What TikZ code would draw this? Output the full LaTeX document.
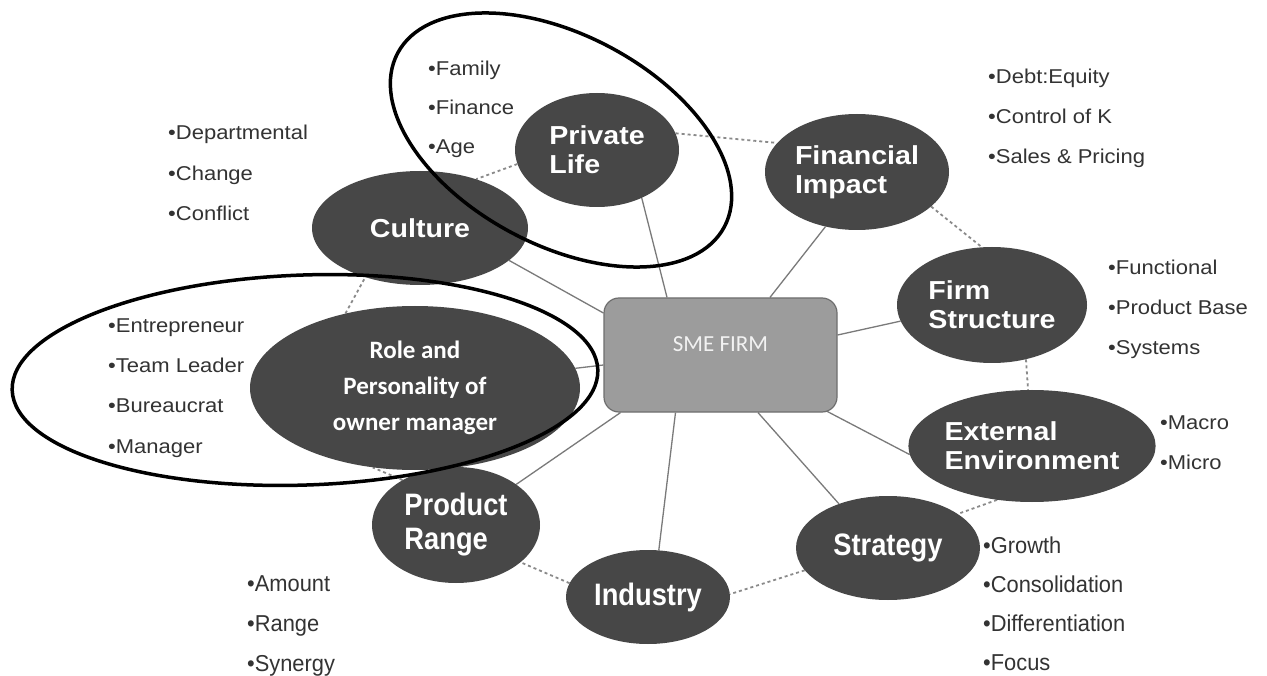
\documentclass[tikz,border=0pt]{standalone}
\usepackage{fontspec}
\setmainfont{Liberation Sans}
\newfontfamily\bulfont[FakeStretch=1.1]{Liberation Sans}
\newfontfamily\narfont[FakeStretch=0.95]{Liberation Sans}
\newfontfamily\labfont[FakeStretch=1.1]{Liberation Sans}
\newfontfamily\labnar[FakeStretch=0.88]{Liberation Sans}
\newfontfamily\calfont{Carlito}
\usetikzlibrary{shapes.geometric,backgrounds}
\definecolor{blobgray}{HTML}{474747}
\definecolor{boxgray}{HTML}{9C9C9C}
\definecolor{boxedge}{HTML}{6E6E6E}
\definecolor{linkgray}{HTML}{7A7A7A}
\definecolor{ringgray}{HTML}{8A8A8A}
\definecolor{bultext}{HTML}{333333}
\tikzset{
  blob/.style={ellipse, fill=blobgray, draw=none, text=white, inner sep=0pt, align=left,
    font=\labfont\bfseries\fontsize{26}{29}\selectfont},
  blobn/.style={blob, font=\labnar\bfseries\fontsize{31}{34}\selectfont},
  bul/.style={anchor=base west, text=bultext, inner sep=0pt, font=\bulfont\fontsize{20}{24}\selectfont},
  buln/.style={bul, font=\narfont\fontsize{23}{24}\selectfont},
  link/.style={draw=linkgray, line width=1.3pt},
  ring/.style={draw=ringgray, line width=1.8pt, dash pattern=on 3pt off 3pt},
  loop/.style={ellipse, draw=black, line width=3.5pt, inner sep=0pt}
}
\begin{document}
\begin{tikzpicture}[x=1pt, y=-1pt]
\useasboundingbox (0,0) rectangle (1267,676);

% bullet lists
\foreach \t [count=\i] in {Departmental,Change,Conflict}
  \node[bul] (lcu\i) at (168,{140+40.5*(\i-1)}) {•\t};
\foreach \t [count=\i] in {Family,Finance,Age}
  \node[bul] (lpl\i) at (428,{76+39*(\i-1)}) {•\t};
\foreach \t [count=\i] in {Debt:Equity,Control of K,Sales \& Pricing}
  \node[bul] (lfi\i) at (988,{84+40*(\i-1)}) {•\t};
\foreach \t [count=\i] in {Functional,Product Base,Systems}
  \node[bul] (lfs\i) at (1108,{275+40*(\i-1)}) {•\t};
\foreach \t [count=\i] in {Macro,Micro}
  \node[bul] (lee\i) at (1160,{429+40*(\i-1)}) {•\t};
\foreach \t [count=\i] in {Entrepreneur,Team Leader,Bureaucrat,Manager}
  \node[bul] (lro\i) at (108,{333+40*(\i-1)}) {•\t};
\foreach \t [count=\i] in {Growth,Consolidation,Differentiation,Focus}
  \node[buln] (lst\i) at (983,{553+39.3*(\i-1)}) {•\t};
\foreach \t [count=\i] in {Amount,Range,Synergy}
  \node[buln] (lpr\i) at (247,{591+40*(\i-1)}) {•\t};

% centre box
\node[draw=boxedge, fill=boxgray, rounded corners=15pt, line width=1.2pt,
      minimum width=233pt, minimum height=114pt, inner sep=0pt,
      text=white!95!black, text depth=22pt,
      font=\calfont\fontsize{23}{25}\selectfont] (box) at (720.5,355) {SME FIRM};

% topic ellipses
\node[blob, minimum width=164pt, minimum height=114pt] (pl) at (597,150) {Private\\Life};
\node[blob, minimum width=216pt, minimum height=114pt] (cu) at (420,228) {Culture};
\node[blob, minimum width=184pt, minimum height=116pt] (fi) at (857,172) {Financial\\Impact};
\node[blob, minimum width=190pt, minimum height=116pt] (fs) at (992,305) {Firm\\Structure};
\node[blob, minimum width=230pt, minimum height=112pt] (ee) at (1032,446) {External\\Environment};
\node[blobn, minimum width=184pt, minimum height=104pt] (strat) at (888,548) {Strategy};
\node[blobn, minimum width=164pt, minimum height=94pt] (ind) at (648,597) {Industry};
\node[blobn, minimum width=168pt, minimum height=116pt] (pr) at (456,525) {Product\\Range};
\node[blob, minimum width=330pt, minimum height=164pt, align=center,
      font=\calfont\bfseries\fontsize{25}{36}\selectfont] (ro) at (415,388)
      {Role and\\Personality of\\owner manager};

% connectors behind the shapes
\begin{scope}[on background layer]
\fill[white] (0,0) rectangle (1267,676);
\draw[link] ([xshift=-53.5pt]box.north) -- (pl.-47);
\draw[link] ([xshift=49.5pt]box.north) -- (fi.-120);
\draw[link] ([yshift=20pt]box.east) -- (fs.-170);
\draw[link] ([xshift=-12pt,yshift=2pt]box.south east) -- (ee.-176);
\draw[link] ([xshift=37.5pt]box.south) -- (strat.138);
\draw[link] ([xshift=-45pt]box.south) -- (ind.77);
\draw[link] ([xshift=-100pt]box.south) -- (pr.34);
\draw[link] ([yshift=-10pt]box.west) -- (ro.7);
\draw[link] ([yshift=42pt]box.west) -- (cu.-20);

\draw[ring] (pl.12) -- (fi.160);
\draw[ring] (pl.190) -- (cu.41);
\draw[ring] (fi.-25) -- (fs.100);
\draw[ring] (fs.-58) -- (ee.94);
\draw[ring] (ee.-123) -- (strat.26);
\draw[ring] (strat.-165) -- (ind.2);
\draw[ring] (ind.170) -- (pr.-30);
\draw[ring] (pr.140) -- (ro.-118);
\draw[ring] (ro.133) -- (cu.-138);
\end{scope}

% highlight loops
\node[loop, minimum width=370pt, minimum height=210pt, rotate=-28] (plloop) at (561,140) {};
\node[loop, minimum width=586pt, minimum height=210pt, rotate=2] (roloop) at (305,380) {};
\end{tikzpicture}
\end{document}
